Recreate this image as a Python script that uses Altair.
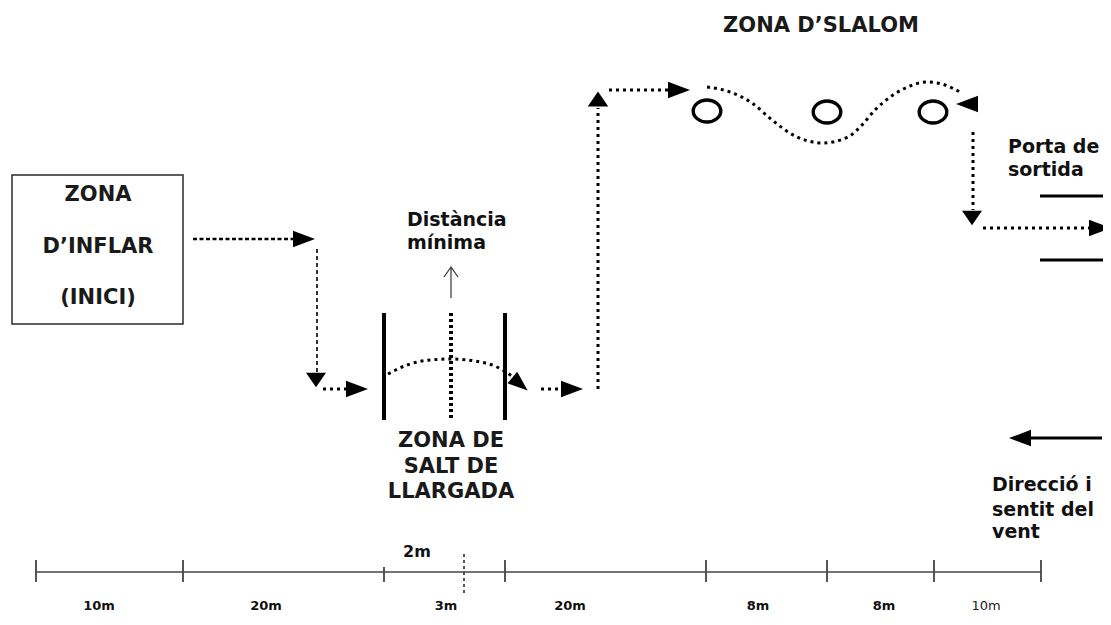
import altair as alt
import pandas as pd

# ---------------- data (diagram coordinates) ----------------
# start box "ZONA D'INFLAR (INICI)"
box_x, box_x2 = [12], [183]
box_y, box_y2 = [175], [324]

# dashed route pieces (path id, x, y)
dash_thick_path = ["a", "a"]
dash_thick_x = [193, 295]
dash_thick_y = [239, 239]

dash_thin_path = ["b", "b"]
dash_thin_x = [317, 317]
dash_thin_y = [249, 372]

# dotted straight route pieces
dot_path = ["c", "c", "d", "d", "e", "e", "f", "f", "g", "g", "h", "h"]
dot_x = [323, 347, 541, 562, 598, 598, 609, 668, 973, 973, 983, 1092]
dot_y = [389, 389, 389, 389, 389, 108, 90, 90, 132, 210, 228, 228]

# dotted curved route pieces (jump arc and slalom wave)
curve_path = ["arc"] * 7 + ["wave"] * 14
curve_x = [388, 410, 430, 451, 475, 497, 512,
           707, 730, 752, 772, 795, 823, 848, 862, 875, 893, 910, 927, 945, 960]
curve_y = [374, 364, 360, 359, 361, 367, 376,
           87, 92, 103, 120, 136, 143, 137, 125, 110, 95, 86, 82, 85, 92]

# arrow heads
arrow_x = [304, 316, 357, 520, 572, 598, 679, 967, 972, 1100, 1020]
arrow_y = [239, 380, 389, 384, 389, 99, 90, 104, 218, 228, 438]
arrow_dir = ["right", "down", "right", "downright", "right", "up", "right",
             "left", "down", "right", "left"]

# long-jump zone bars
bar_x = [384, 505]
bar_y, bar_y2 = 313, 420
mid_x = [451]

# slalom cones
cone_x = [707, 827, 933]
cone_y = [111, 112, 112]

# exit gate
gate_y = [196, 260]
gate_x, gate_x2 = 1040, 1107

# wind arrow shaft
wind_x, wind_x2, wind_y = [1030], [1102], [438]

# "Distància mínima" arrow
dm_path_x = [444, 451, 458]
dm_path_y = [277, 267, 277]
dm_shaft_x, dm_shaft_y, dm_shaft_y2 = [451], [268], [298]

# distance scale
scale_line_x, scale_line_x2, scale_line_y = [36], [1041], [572]
tick_x = [36, 183, 384, 505, 706, 827, 934, 1041]
tick_top = [560, 560, 567, 560, 560, 560, 560, 560]
tick_bottom = [582, 582, 582, 582, 582, 582, 582, 582]
half_x, half_top, half_bottom = [464], [554], [594]
seg_labels = ["10m", "20m", "3m", "20m", "8m", "8m", "10m"]
seg_label_x = [99, 266, 446, 570, 758, 884, 986]
seg_label_bold = [True, True, True, True, True, True, False]
half_label = ["2m"]
half_label_x, half_label_y = [417], [552]

# texts
zone_text = ["ZONA", "D\u2019INFLAR", "(INICI)", "ZONA DE", "SALT DE", "LLARGADA", "ZONA D\u2019SLALOM"]
zone_text_x = [98, 98, 98, 451, 451, 451, 821]
zone_text_y = [195, 247, 298, 441, 467, 492, 26]

note_text = ["Dist\u00e0ncia", "m\u00ednima", "Porta de", "sortida", "Direcci\u00f3 i", "sentit del", "vent"]
note_text_x = [407, 407, 1008, 1008, 992, 992, 992]
note_text_y = [220, 243, 147, 170, 485, 510, 532]

# ---------------- chart ----------------
XS = alt.Scale(domain=[8, 1103], nice=False, zero=False)
YS = alt.Scale(domain=[617, 8], nice=False, zero=False)


def X(f):
    return alt.X(f"{f}:Q", scale=XS, axis=None)


def Y(f):
    return alt.Y(f"{f}:Q", scale=YS, axis=None)


FONT = "DejaVu Sans"

box = alt.Chart(pd.DataFrame({"x": box_x, "x2": box_x2, "y": box_y, "y2": box_y2})).mark_rect(
    fill="white", stroke="#2a2a2a", strokeWidth=1.5
).encode(x=X("x"), x2="x2:Q", y=Y("y"), y2="y2:Q")


def path_df(pid, xs, ys):
    return pd.DataFrame({"path": pid, "x": xs, "y": ys, "o": list(range(len(xs)))})


dash_thick = alt.Chart(path_df(dash_thick_path, dash_thick_x, dash_thick_y)).mark_line(
    color="black", strokeWidth=2.5, strokeDash=[4, 2.5]
).encode(x=X("x"), y=Y("y"), detail="path:N", order="o:Q")

dash_thin = alt.Chart(path_df(dash_thin_path, dash_thin_x, dash_thin_y)).mark_line(
    color="black", strokeWidth=1.6, strokeDash=[4, 3]
).encode(x=X("x"), y=Y("y"), detail="path:N", order="o:Q")

dots = alt.Chart(path_df(dot_path, dot_x, dot_y)).mark_line(
    color="black", strokeWidth=3, strokeDash=[3, 4]
).encode(x=X("x"), y=Y("y"), detail="path:N", order="o:Q")

curves = alt.Chart(path_df(curve_path, curve_x, curve_y)).mark_line(
    color="black", strokeWidth=3, strokeDash=[3, 4], interpolate="monotone"
).encode(x=X("x"), y=Y("y"), detail="path:N", order="o:Q")

HEAD_H = "M1,0L-1,-0.75L-1,0.75Z"
HEAD_V_DOWN = "M0,0.72L-1,-0.72L1,-0.72Z"
HEAD_V_UP = "M0,-0.72L-1,0.72L1,0.72Z"
HEAD_L = "M-1,0L1,-0.75L1,0.75Z"
shape_for = {"right": HEAD_H, "left": HEAD_L, "down": HEAD_V_DOWN, "up": HEAD_V_UP, "downright": HEAD_H}
angle_for = {"right": 0, "left": 0, "down": 0, "up": 0, "downright": 40}
size_for = {"right": 484, "left": 484, "down": 400, "up": 420, "downright": 400}
arr_df = pd.DataFrame({"x": arrow_x, "y": arrow_y, "dir": arrow_dir})
arr_df["shape"] = arr_df["dir"].map(shape_for)
arr_df["angle"] = arr_df["dir"].map(angle_for)
arr_df["size"] = arr_df["dir"].map(size_for)
arrows = alt.Chart(arr_df).mark_point(filled=True, color="black", opacity=1, strokeWidth=0).encode(
    x=X("x"), y=Y("y"),
    shape=alt.Shape("shape:N", scale=None),
    angle=alt.Angle("angle:Q", scale=None),
    size=alt.Size("size:Q", scale=None),
)

bars = alt.Chart(pd.DataFrame({"x": bar_x, "y": bar_y, "y2": bar_y2})).mark_rule(
    color="black", strokeWidth=4
).encode(x=X("x"), y=Y("y"), y2="y2:Q")

mid = alt.Chart(pd.DataFrame({"x": mid_x, "y": bar_y, "y2": bar_y2})).mark_rule(
    color="black", strokeWidth=4, strokeDash=[3, 3]
).encode(x=X("x"), y=Y("y"), y2="y2:Q")

ELLIPSE = "M-1,0A1,0.8,0,1,0,1,0A1,0.8,0,1,0,-1,0Z"
cones = alt.Chart(pd.DataFrame({"x": cone_x, "y": cone_y})).mark_point(
    shape=ELLIPSE, size=760, filled=False, color="black", strokeWidth=3.4, opacity=1
).encode(x=X("x"), y=Y("y"))

gate = alt.Chart(pd.DataFrame({"y": gate_y, "x": gate_x, "x2": gate_x2})).mark_rule(
    color="black", strokeWidth=3
).encode(x=X("x"), x2="x2:Q", y=Y("y"))

wind = alt.Chart(pd.DataFrame({"x": wind_x, "x2": wind_x2, "y": wind_y})).mark_rule(
    color="black", strokeWidth=3
).encode(x=X("x"), x2="x2:Q", y=Y("y"))

dm_head = alt.Chart(path_df(["dm"] * 3, dm_path_x, dm_path_y)).mark_line(
    color="#333", strokeWidth=1.2
).encode(x=X("x"), y=Y("y"), detail="path:N", order="o:Q")
dm_shaft = alt.Chart(pd.DataFrame({"x": dm_shaft_x, "y": dm_shaft_y, "y2": dm_shaft_y2})).mark_rule(
    color="#333", strokeWidth=1.2
).encode(x=X("x"), y=Y("y"), y2="y2:Q")

scale_line = alt.Chart(pd.DataFrame({"x": scale_line_x, "x2": scale_line_x2, "y": scale_line_y})).mark_rule(
    color="#444", strokeWidth=1.3
).encode(x=X("x"), x2="x2:Q", y=Y("y"))
ticks = alt.Chart(pd.DataFrame({"x": tick_x, "y": tick_top, "y2": tick_bottom})).mark_rule(
    color="#444", strokeWidth=1.8
).encode(x=X("x"), y=Y("y"), y2="y2:Q")
half = alt.Chart(pd.DataFrame({"x": half_x, "y": half_top, "y2": half_bottom})).mark_rule(
    color="#444", strokeWidth=1.8, strokeDash=[3, 3]
).encode(x=X("x"), y=Y("y"), y2="y2:Q")

lab_df = pd.DataFrame({"t": seg_labels, "x": seg_label_x, "bold": seg_label_bold, "y": 606})
seg_bold = alt.Chart(lab_df[lab_df["bold"]]).mark_text(
    font=FONT, fontSize=13, fontWeight="bold", color="#111", baseline="middle"
).encode(x=X("x"), y=Y("y"), text="t:N")
seg_reg = alt.Chart(lab_df[~lab_df["bold"]]).mark_text(
    font=FONT, fontSize=13, color="#222", baseline="middle"
).encode(x=X("x"), y=Y("y"), text="t:N")
half_lab = alt.Chart(pd.DataFrame({"t": half_label, "x": half_label_x, "y": half_label_y})).mark_text(
    font=FONT, fontSize=16, fontWeight="bold", color="#111", baseline="middle"
).encode(x=X("x"), y=Y("y"), text="t:N")

zones = alt.Chart(pd.DataFrame({"t": zone_text, "x": zone_text_x, "y": zone_text_y})).mark_text(
    font=FONT, fontSize=21, fontWeight="bold", color="#1a1a1a", baseline="middle", align="center"
).encode(x=X("x"), y=Y("y"), text="t:N")

notes = alt.Chart(pd.DataFrame({"t": note_text, "x": note_text_x, "y": note_text_y})).mark_text(
    font=FONT, fontSize=19, fontWeight="bold", color="#111", baseline="middle", align="left"
).encode(x=X("x"), y=Y("y"), text="t:N")

chart = alt.layer(
    box, dash_thick, dash_thin, dots, curves, bars, mid, cones, gate, wind,
    dm_shaft, dm_head, scale_line, ticks, half, arrows,
    seg_bold, seg_reg, half_lab, zones, notes,
).properties(
    width=1095, height=609, padding=0, autosize=alt.AutoSizeParams(type="none"),
    background="white",
).configure_view(stroke=None)

chart.save("out.html", embed_options={"renderer": "svg", "actions": False})
